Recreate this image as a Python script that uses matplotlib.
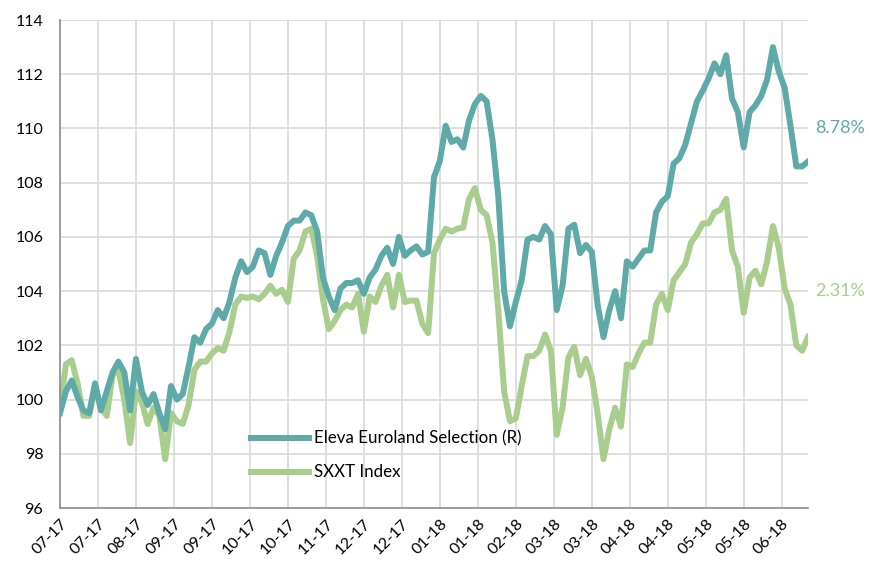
import numpy as np
import matplotlib
matplotlib.use("Agg")
import matplotlib.pyplot as plt

plt.rcParams['font.family'] = ['Lato', 'DejaVu Sans']

tick_labels = ["07-17", "07-17", "08-17", "09-17", "09-17", "10-17", "10-17", "11-17",
               "12-17", "12-17", "01-18", "01-18", "02-18", "03-18", "03-18", "04-18",
               "04-18", "05-18", "05-18", "06-18"]

eleva = [
    99.5, 100.3, 100.7, 100.1, 99.6, 99.5, 100.6, 99.6, 100.3, 101.0,
    101.4, 101.0, 99.6, 101.5, 100.3, 99.8, 100.2, 99.5, 98.9, 100.5,
    100.0, 100.2, 101.2, 102.3, 102.1, 102.6, 102.8, 103.3, 103.0, 103.6,
    104.5, 105.1, 104.7, 104.9, 105.5, 105.4, 104.6, 105.3, 105.8, 106.4,
    106.6, 106.6, 106.9, 106.8, 106.2, 104.5, 103.8, 103.3, 104.1, 104.3,
    104.3, 104.4, 103.9, 104.5, 104.8, 105.3, 105.6, 105.0, 106.0, 105.3,
    105.5, 105.65, 105.35, 105.45, 108.2, 108.8, 110.1, 109.5, 109.6, 109.3,
    110.3, 110.9, 111.2, 111.0, 109.6, 107.5, 104.0, 102.7, 103.6, 104.4,
    105.9, 106.0, 105.9, 106.4, 106.1, 103.3, 104.2, 106.3, 106.45, 105.4,
    105.7, 105.45, 103.5, 102.3, 103.3, 104.0, 103.0, 105.1, 104.9, 105.2,
    105.5, 105.5, 106.9, 107.3, 107.5, 108.7, 108.9, 109.4, 110.2, 111.0,
    111.4, 111.85, 112.4, 112.0, 112.7, 111.1, 110.6, 109.3, 110.6, 110.85,
    111.2, 111.8, 113.0, 112.1, 111.5, 110.1, 108.6, 108.6, 108.78,
]

sxxt = [
    99.6, 101.3, 101.45, 100.6, 99.4, 99.4, 100.5, 99.7, 99.4, 100.9,
    101.1, 100.0, 98.4, 100.3, 99.9, 99.1, 99.7, 99.4, 97.8, 99.5,
    99.2, 99.1, 99.8, 101.1, 101.4, 101.4, 101.7, 101.9, 101.8, 102.5,
    103.5, 103.8, 103.75, 103.8, 103.7, 103.9, 104.2, 103.9, 104.05, 103.6,
    105.2, 105.5, 106.2, 106.3, 105.3, 103.7, 102.6, 102.9, 103.3, 103.5,
    103.4, 103.9, 102.5, 103.8, 103.6, 104.2, 104.6, 103.4, 104.6, 103.6,
    103.65, 103.65, 102.8, 102.45, 105.4, 105.9, 106.3, 106.2, 106.3, 106.35,
    107.4, 107.8, 107.0, 106.8, 105.8, 103.3, 100.3, 99.2, 99.3, 100.5,
    101.6, 101.6, 101.8, 102.4, 101.8, 98.7, 99.7, 101.55, 101.95, 100.9,
    101.5, 100.85, 99.5, 97.8, 98.9, 99.7, 99.0, 101.3, 101.2, 101.7,
    102.1, 102.1, 103.5, 103.9, 103.3, 104.4, 104.7, 105.0, 105.8, 106.1,
    106.5, 106.5, 106.9, 107.0, 107.4, 105.5, 104.9, 103.2, 104.5, 104.75,
    104.25, 105.1, 106.4, 105.6, 104.1, 103.5, 102.0, 101.8, 102.31,
]

teal = "#5eaaa8"
green = "#a9cd8c"

fig = plt.figure(figsize=(8.7, 5.62), dpi=100)
ax = fig.add_axes([60/870, 1-508/562, (808-60)/870, (508-20)/562])

x = np.arange(len(eleva))
ax.plot(x, eleva, color=teal, lw=4.3, solid_joinstyle='round', label="Eleva Euroland Selection (R)", zorder=3)
ax.plot(x, sxxt, color=green, lw=4.3, solid_joinstyle='round', label="SXXT Index", zorder=2)

ax.set_xlim(0, len(eleva) - 1)
ax.set_ylim(96, 114)
ax.set_yticks(np.arange(96, 115, 2))
tick_pos = np.arange(len(tick_labels)) * 6.5
ax.set_xticks(tick_pos)
ax.set_xticklabels(tick_labels, rotation=45, ha='right', va='top', rotation_mode='anchor')
ax.tick_params(axis='both', length=0, colors='#000000')
ax.tick_params(axis='y', pad=12, labelsize=11.5)
ax.tick_params(axis='x', pad=6, labelsize=11.5)

ax.grid(True, color='#d9d9d9', lw=1.2)
ax.set_axisbelow(True)
for s in ['top', 'right']:
    ax.spines[s].set_visible(False)
for s in ['left', 'bottom']:
    ax.spines[s].set_color('#8c8c8c')
    ax.spines[s].set_linewidth(1.2)

leg = ax.legend(loc='upper left', bbox_to_anchor=(0.235, 0.19), frameon=False,
                fontsize=12.2, handlelength=3.4, labelspacing=1.05, handletextpad=0.3)

ax.text(1.01, 110.0, "8.78%", color=teal, fontsize=13, va='center', ha='left',
        transform=ax.get_yaxis_transform(), clip_on=False)
ax.text(1.01, 104.0, "2.31%", color=green, fontsize=13, va='center', ha='left',
        transform=ax.get_yaxis_transform(), clip_on=False)

fig.savefig("out.png", dpi=100)
